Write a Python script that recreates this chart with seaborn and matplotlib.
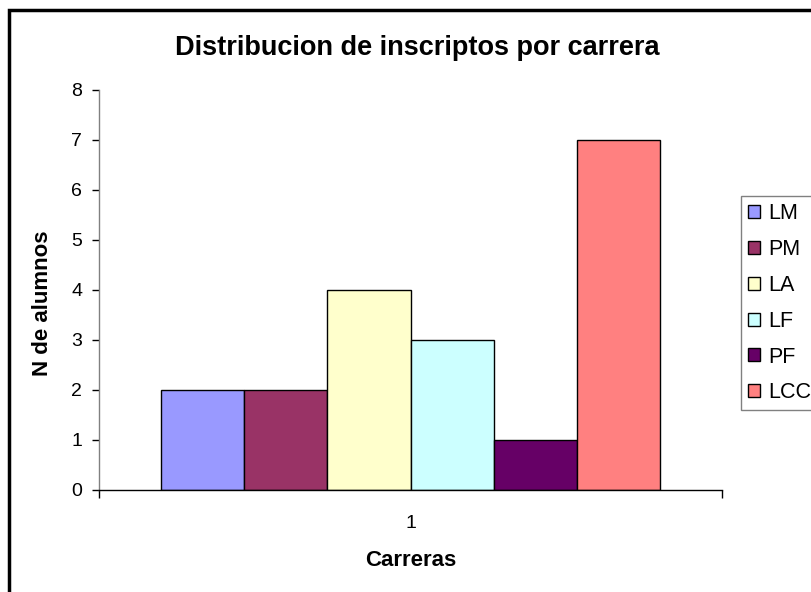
import matplotlib
matplotlib.use("Agg")
import matplotlib.pyplot as plt
import matplotlib.patches as mpatches
import seaborn as sns
import pandas as pd

carreras = ["LM", "PM", "LA", "LF", "PF", "LCC"]
alumnos = [2, 2, 4, 3, 1, 7]
grupo = ["1"] * len(carreras)
colores = ["#9999FF", "#993366", "#FFFFCC", "#CCFFFF", "#660066", "#FF8080"]

df = pd.DataFrame({"grupo": grupo, "carrera": carreras, "alumnos": alumnos})

sns.set_style("white")
plt.rcParams["font.family"] = ["Liberation Sans", "DejaVu Sans"]
plt.rcParams["text.color"] = "black"
plt.rcParams["axes.labelcolor"] = "black"
plt.rcParams["xtick.color"] = "black"
plt.rcParams["ytick.color"] = "black"

fig = plt.figure(figsize=(8.12, 5.92), dpi=100)
ax = fig.add_axes([99 / 812, 1 - 490 / 592, 623 / 812, 400 / 592])

sns.barplot(data=df, x="grupo", y="alumnos", hue="carrera", hue_order=carreras,
            palette=colores, saturation=1, edgecolor="black", linewidth=1,
            width=0.8, gap=0, legend=False, ax=ax)

ax.set_xlim(-0.5, 0.5)
ax.set_ylim(0, 8)
ax.set_yticks(range(0, 9))
ax.tick_params(axis="y", direction="out", length=5, width=1,
               left=True, labelsize=14, pad=7)
ax.set_xticks([0])
ax.set_xticklabels(["1"])
ax.set_xticks([-0.5, 0.5], minor=True)
ax.tick_params(axis="x", which="major", length=0, labelsize=14, pad=18)
ax.tick_params(axis="x", which="minor", direction="out", length=6, width=1,
               bottom=True)

for s in ["top", "right"]:
    ax.spines[s].set_visible(False)
ax.spines["bottom"].set_color("black")
ax.spines["left"].set_color("#808080")
for s in ["left", "bottom"]:
    ax.spines[s].set_linewidth(1)

ax.set_xlabel("Carreras", fontsize=16, fontweight="bold", labelpad=13)
ax.set_ylabel("N de alumnos", fontsize=16, fontweight="bold", labelpad=13)
ax.yaxis.label.set_y(0.4675)
fig.text(417.5 / 812, 1 - 48 / 592,
         "Distribucion de inscriptos por carrera",
         ha="center", va="center", fontsize=19.5, fontweight="bold")

handles = [mpatches.Patch(facecolor=c, edgecolor="black", linewidth=1, label=l)
           for c, l in zip(colores, carreras)]
leg = fig.legend(handles=handles, loc="upper left",
                 bbox_to_anchor=(741 / 812, 1 - 196 / 592),
                 frameon=True, fancybox=False, fontsize=15.5,
                 handlelength=0.56, handleheight=0.56, handletextpad=0.36,
                 labelspacing=0.69, borderpad=0.33, borderaxespad=0)
leg.get_frame().set_edgecolor("#606060")
leg.get_frame().set_linewidth(1)

# marco exterior del grafico
fig.patches.append(mpatches.Rectangle((9 / 812, -0.1), 1.2, 1.1 - 10 / 592,
                                      transform=fig.transFigure, fill=False,
                                      edgecolor="black", linewidth=2.5))

fig.savefig("out.png", dpi=100)
